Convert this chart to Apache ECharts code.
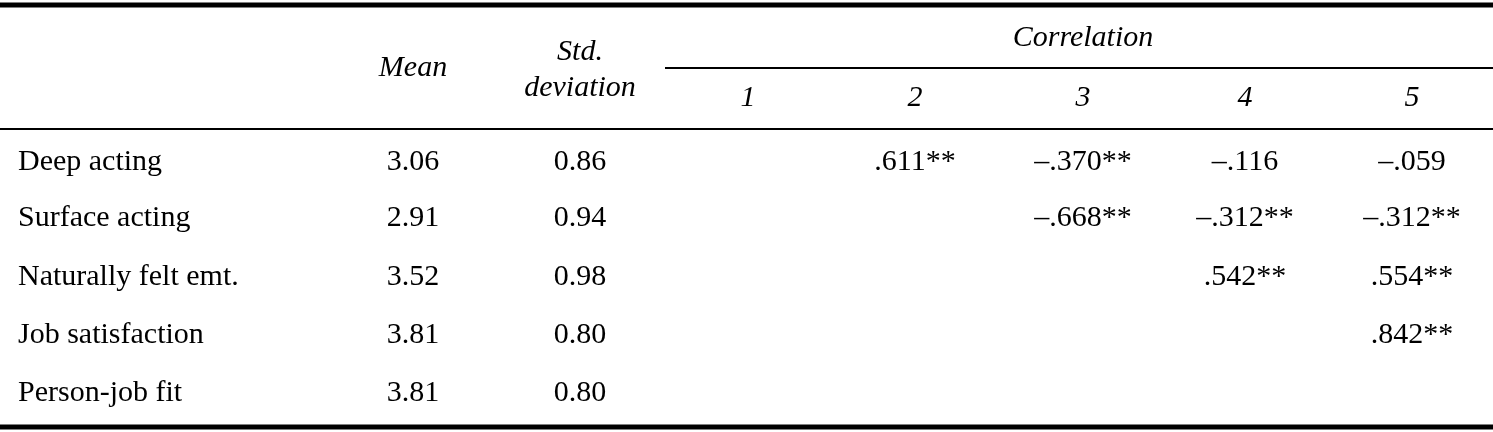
<!DOCTYPE html>
<html><head><meta charset="utf-8">
<script src="https://cdn.jsdelivr.net/npm/echarts@6/dist/echarts.min.js"></script>
<style>html,body{margin:0;padding:0;background:#fff}#c{width:1493px;height:432px}</style>
</head><body><div id="c"></div>
<script>
const rowNames = ["Deep acting","Surface acting","Naturally felt emt.","Job satisfaction","Person-job fit"];
const means = ["3.06","2.91","3.52","3.81","3.81"];
const stds = ["0.86","0.94","0.98","0.80","0.80"];
const corrHeaders = ["1","2","3","4","5"];
const corr = [
  ["", ".611**", "–.370**", "–.116", "–.059"],
  ["", "", "–.668**", "–.312**", "–.312**"],
  ["", "", "", ".542**", ".554**"],
  ["", "", "", "", ".842**"],
  ["", "", "", "", ""]
];
// layout
const colX = [413, 580, 748, 915, 1083, 1245, 1412];
const rowY = [162, 218, 277, 335, 393];
const F = "Liberation Serif, Times New Roman, serif";
const texts = [];
const add = (x,y,t,o)=>texts.push(Object.assign({x,y,t,align:'center',italic:false},o||{}));
add(colX[0],68,"Mean",{italic:true});
add(colX[1],52,"Std.",{italic:true});
add(colX[1],88,"deviation",{italic:true});
add(1083,38,"Correlation",{italic:true});
corrHeaders.forEach((h,i)=>add(colX[2+i],98,h,{italic:true}));
rowNames.forEach((n,r)=>{
  add(18,rowY[r],n,{align:'left'});
  add(colX[0],rowY[r],means[r]);
  add(colX[1],rowY[r],stds[r]);
  corr[r].forEach((v,i)=>{ if(v) add(colX[2+i],rowY[r],v); });
});
const lines = [[0,1493,5,5],[665,1493,68,2],[0,1493,129,2],[0,1493,427,5]];
const chart = echarts.init(document.getElementById('c'));
chart.setOption({
  animation:false,
  grid:{left:0,right:0,top:0,bottom:0},
  xAxis:{type:'value',min:0,max:1493,show:false},
  yAxis:{type:'value',min:0,max:432,inverse:true,show:false},
  series:[
    {type:'custom',data:texts.map((d,i)=>[d.x,d.y,i]),
     renderItem:(p,api)=>{const d=texts[api.value(2)];const c=api.coord([d.x,d.y]);
       return {type:'text',x:c[0],y:c[1],style:{text:d.t,fill:'#000',font:(d.italic?'italic ':'')+'30px '+F,textAlign:d.align,textVerticalAlign:'middle'}};}},
    {type:'custom',data:lines.map((l,i)=>[l[0],l[2],i]),
     renderItem:(p,api)=>{const l=lines[api.value(2)];const a=api.coord([l[0],l[2]]),b=api.coord([l[1],l[2]]);
       return {type:'line',shape:{x1:a[0],y1:a[1],x2:b[0],y2:b[1]},style:{stroke:'#000',lineWidth:l[3]}};}}
  ]
});
</script></body></html>
